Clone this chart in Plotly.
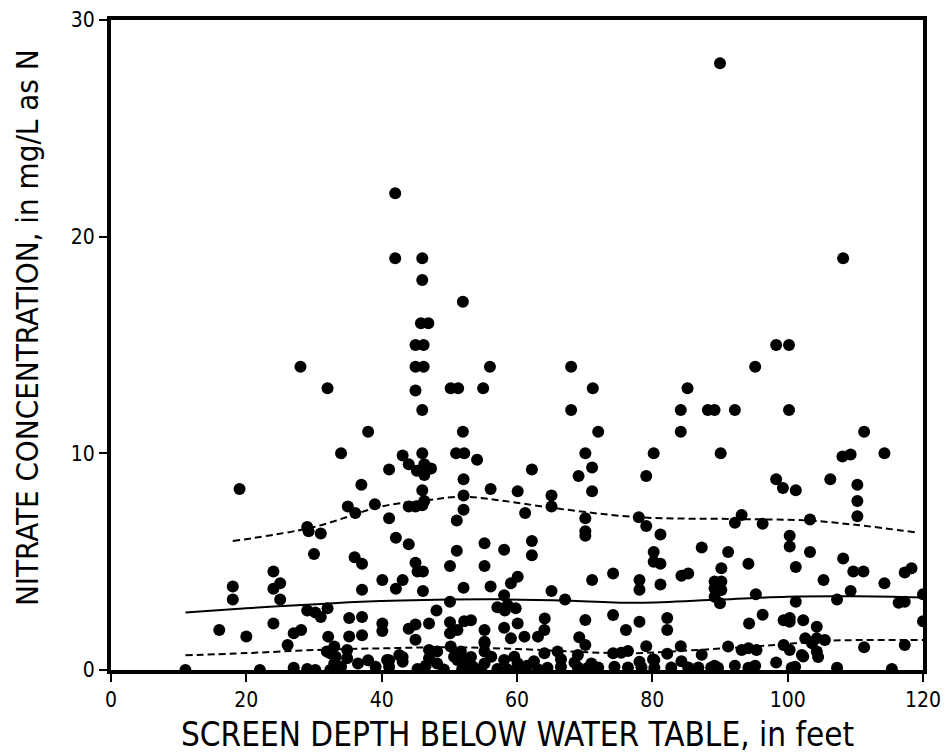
import plotly.graph_objects as go

# ---- data (screen depth in feet, nitrate in mg/L as N) ----
pts_high = [(42,22),(42,19),(46,19),(46,18),(52,17),(45.8,16),(46.9,16),(45,15),(46.2,15),(45,14),(46.2,14),
            (28,14),(56,14),(32,13),(45,12.9),(50.2,13),(51.3,13),(55,13),(46,12),
            (90,28),(108.2,19),(98.3,15),(100.2,15),(68,14),(95.2,14),(71.2,13),(85.2,13),(68,12),(84.2,12),
            (88.2,12),(89.2,12),(92.2,12),(100.2,12)]
pts_left = [(38,11),(34,10),(19,8.35),(37,8.55),(39,7.65),(35,7.55),(36.1,7.25),(29,6.6),(29.2,6.4),(31,6.3),
            (30,5.35),(36,5.2),(37.1,4.9),(37.1,3.7),(24,4.55),(25,4.0),(24,3.75),(25,3.25),(18,3.85),(18,3.25),
            (29,2.75),(30.2,2.65),(31,2.45),(32,2.85),(16,1.85),(20,1.55),(24,2.15),(27,1.7),(28.1,1.85),
            (26.1,1.15),(11,0),(22,0),(27,0.1),(29,0.05),(30.2,0),(32.1,1.54),(33,1.08),(34.9,0.92),(34.9,0.54),
            (32.4,0.77),(33,0.31),(34,0.15),(35.2,2.4),(37.1,2.45),(35.2,1.55),(37.1,1.6),(39.1,0.15)]
pts_mid = [(52,11),(72,11),(43.1,9.9),(46,10),(51,10),(52.2,10),(54.1,9.7),(44,9.5),(41.1,9.25),(45.2,9.2),
           (46.3,9.5),(47.3,9.3),(46.3,9.0),(46,8.3),(52.1,8.8),(56.1,8.35),(60.1,8.25),(62.2,9.25),(70.1,10),
           (71.1,9.35),(69.1,8.95),(71.1,8.25),(52.1,8.05),(65.1,8.05),(65.1,7.55),(44,7.55),(45,7.55),(46,7.6),
           (46.3,7.8),(52.1,7.4),(51.1,6.9),(61.2,7.25),(41.1,7.0),(70.1,7.0),(70.1,6.4),(70.1,6.2),(78,7.05),
           (42.1,6.1),(44,5.8),(51.1,5.5),(55.2,5.85),(58.1,5.55),(62.2,5.95),(62.2,5.3),(45,4.95),(45.3,4.55),
           (46.1,4.55),(50.1,4.8),(55.2,4.8),(40.1,4.15),(42.1,3.75),(43.1,4.15),(46.1,3.65),(52.1,3.8),
           (56.1,3.85),(59.1,4.0),(60.1,4.3),(58.1,3.45),(65.1,3.65),(67.1,3.25),(71.1,4.15),(74.2,4.45),
           (78.1,4.15),(78.1,3.7),(50.1,3.15),(57.1,2.9),(58.6,3.0),(59.8,2.85),(58.2,2.75),(48.1,2.75),
           (40.1,2.15),(40.1,1.8),(44,1.9),(45,2.1),(47,2.15),(45,1.4),(50.1,2.2),(50.1,1.7),(51.2,1.85),
           (52.2,2.25),(53.2,2.3),(55.2,1.85),(55.2,1.3),(58.1,1.95),(60.1,2.15),(59.1,1.46),(61.1,1.54),
           (64.1,2.38),(64.05,1.85),(63.1,1.54),(70.1,2.31),(69.2,1.51),(70.1,1.15),(74.2,2.54),(76.1,1.85),
           (78.1,2.23)]
pts_low_mid = [(31.9,0.85),(33.2,0.61),(40.8,0.46),(42.6,0.69),(43.1,0.38),(47.0,0.92),(47.0,0.54),(48.2,0.85),
               (50.2,1.08),(50.7,0.61),(51.7,0.85),(52.7,0.46),(55.2,1.23),(55.2,0.85),(56.2,0.61),(58.1,0.46),
               (59.6,0.61),(32.4,0.0),(41.1,0.15),(45.3,0.05),(49.2,0.02),(51.9,0.05),(54.7,0.05),(57.1,0.05),
               (58.6,0.02),(60.1,0.05),(64.05,0.77),(66.0,0.85),(69,0.69),(74.2,0.77),(75.4,0.8),(76.4,0.88),
               (78.1,0.38),(80.3,0.46),(63.1,0.03),(66.5,0.15),(69.0,0.12),(72.0,0.12),(74.4,0.15),(76.4,0.12),
               (78.4,0.12),(80.3,0.1),(82.8,0.12),(85.3,0.12),(86.8,0.12),(88.7,0.12),(41.1,0.45),(43.1,0.6),
               (48.2,0.3),(51.2,0.46),(53.2,0.6),(55.2,0.3),(60.1,0.31),(62.5,0.4),(66.5,0.5),(68.5,0.35),
               (71.0,0.3),(36.5,0.3),(38.0,0.45),(46.5,0.2),(53.5,0.15),(61.5,0.2),(64.5,0.1),(70.5,0.1)]
pts_right = [(84.2,11),(111.3,11),(80.2,10),(90.1,10),(108.1,9.85),(109.3,9.95),(114.3,10),(79.1,8.95),
             (98.3,8.8),(99.3,8.4),(101.2,8.3),(106.3,8.8),(110.3,8.55),(110.3,7.8),(110.3,7.1),(79.1,6.65),
             (81.2,6.25),(93.2,7.15),(92.2,6.8),(96.3,6.75),(103.3,6.95),(100.3,6.2),(100.3,5.7),(87.3,5.65),
             (91.2,5.45),(103.3,5.45),(80.2,5.45),(80.2,5.0),(81.2,4.9),(94.2,4.9),(101.2,4.75),(108.2,5.15),
             (109.7,4.55),(111.2,4.55),(117.3,4.5),(118.3,4.7),(84.3,4.35),(85.3,4.45),(90.2,4.7),(89.2,4.08),
             (90.2,4.08),(89.2,3.77),(90.2,3.69),(89.2,3.38),(90.0,3.08),(81.2,3.95),(105.3,4.15),(114.3,4.0),
             (109.3,3.65),(95.3,3.5),(101.2,3.15),(107.3,3.25),(116.4,3.1),(117.3,3.15),(120,3.5),(120,2.25),
             (82.2,2.4),(82.2,1.85),(94.3,2.15),(96.3,2.55),(99.4,2.3),(100.3,2.4),(102.3,2.3),(104.3,2.0),
             (102.6,1.46),(104.3,1.46),(105.5,1.38),(79.1,1.1),(84.2,1.1),(82.2,0.75),(87.3,0.7),(91.2,1.08),
             (93.2,0.92),(94.2,1.0),(95.4,0.92),(99.4,1.15),(100.3,0.92),(102.3,0.62),(104.3,0.85),(111.3,1.05),
             (117.3,1.15),(80.1,0.5),(84.3,0.4),(89.2,0.2),(92.2,0.2),(95.2,0.2),(98.3,0.35),(101.1,0.15),
             (107.3,0.1),(115.4,0.05),(103.6,1.23),(104.5,0.6),(102.1,0.69),(100.3,2.23),(89.7,0.1),(94.2,0.1),
             (100.6,0.1)]

all_pts = pts_high + pts_left + pts_mid + pts_low_mid + pts_right
depth = [p[0] for p in all_pts]
nitrate = [p[1] for p in all_pts]

# smoothed curves
upper_x = [18, 30, 40, 47, 52, 57, 66, 78, 92, 103, 110, 119]
upper_y = [5.95, 6.6, 7.55, 7.85, 8.0, 7.85, 7.45, 7.05, 6.97, 6.9, 6.7, 6.35]
mid_x = [11, 20, 31, 37, 50, 58, 68, 78, 90, 100, 110, 120]
mid_y = [2.65, 2.85, 3.05, 3.15, 3.25, 3.26, 3.2, 3.1, 3.25, 3.38, 3.4, 3.35]
low_x = [11, 20, 30, 40, 50, 60, 72, 77, 88, 98, 106, 120]
low_y = [0.68, 0.78, 0.92, 1.0, 1.05, 0.97, 0.8, 0.77, 0.95, 1.15, 1.35, 1.38]

x_ticks = [0, 20, 40, 60, 80, 100, 120]
y_ticks = [0, 10, 20, 30]

FONT = "Liberation Sans Narrow, DejaVu Sans Condensed, Liberation Sans, Arial, sans-serif"

fig = go.Figure()
fig.add_trace(go.Scatter(x=depth, y=nitrate, mode="markers",
                         marker=dict(color="black", size=12, line=dict(width=0)),
                         showlegend=False, hoverinfo="skip"))
fig.add_trace(go.Scatter(x=mid_x, y=mid_y, mode="lines", line=dict(color="black", width=2, shape="spline"),
                         showlegend=False))
fig.add_trace(go.Scatter(x=upper_x, y=upper_y, mode="lines",
                         line=dict(color="black", width=2, dash="7px,4px", shape="spline"), showlegend=False))
fig.add_trace(go.Scatter(x=low_x, y=low_y, mode="lines",
                         line=dict(color="black", width=2, dash="7px,4px", shape="spline"), showlegend=False))

fig.update_layout(
    width=949, height=753,
    margin=dict(l=103, r=34, t=12, b=91),
    paper_bgcolor="white", plot_bgcolor="white",
    font=dict(family=FONT, color="black", size=20),
    annotations=[
        dict(text="SCREEN DEPTH BELOW WATER TABLE, in feet", xref="paper", yref="paper",
             x=0.5, y=0, yshift=-64, xanchor="center", yanchor="middle", showarrow=False,
             font=dict(family=FONT, size=33, color="black")),
        dict(text="NITRATE CONCENTRATION, in mg/L as N", xref="paper", yref="paper",
             x=0, y=0.5, xshift=-84, yshift=17, xanchor="center", yanchor="middle", showarrow=False,
             textangle=-90, font=dict(family=FONT, size=31, color="black")),
    ],
)
fig.update_xaxes(range=[0, 120], tickvals=x_ticks, ticktext=[str(v) for v in x_ticks],
                 showgrid=False, zeroline=False, showline=True, linecolor="black", linewidth=4, mirror=True,
                 ticks="outside", ticklen=8, tickwidth=2, tickcolor="black", automargin=False,
                 tickfont=dict(family=FONT, size=21))
fig.update_yaxes(range=[0, 30], tickvals=y_ticks, ticktext=[str(v) for v in y_ticks],
                 showgrid=False, zeroline=False, showline=True, linecolor="black", linewidth=4, mirror=True,
                 ticks="outside", ticklen=8, tickwidth=2, tickcolor="black", automargin=False,
                 tickfont=dict(family=FONT, size=21))

fig.write_html("out.html")
